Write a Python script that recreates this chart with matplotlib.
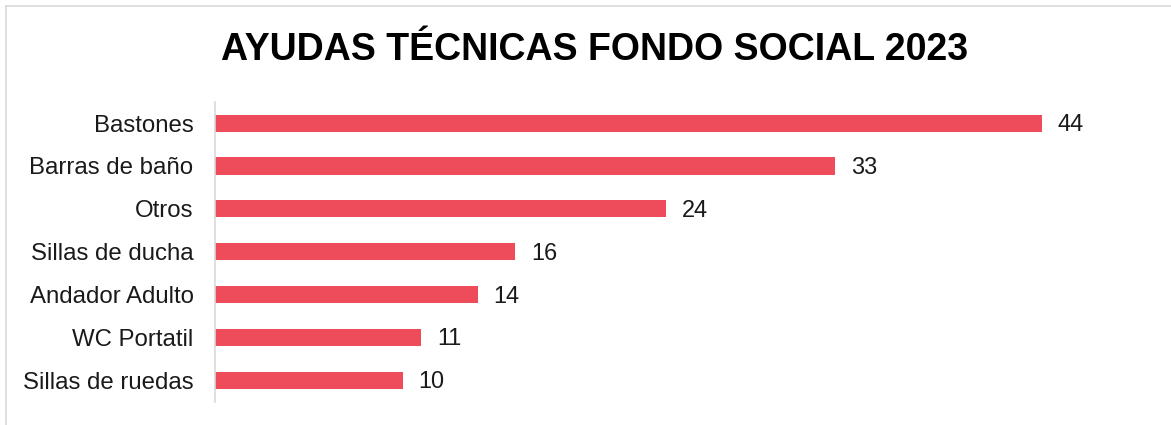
import matplotlib
matplotlib.use("Agg")
import matplotlib.pyplot as plt
from matplotlib.lines import Line2D

categories = ["Bastones", "Barras de baño", "Otros", "Sillas de ducha",
              "Andador Adulto", "WC Portatil", "Sillas de ruedas"]
values = [44, 33, 24, 16, 14, 11, 10]
title = "AYUDAS TÉCNICAS FONDO SOCIAL 2023"

plt.rcParams['font.family'] = ['Liberation Sans', 'DejaVu Sans']

W, H, DPI = 1171, 425, 100
fig = plt.figure(figsize=(W / DPI, H / DPI), dpi=DPI)
fig.patch.set_facecolor("white")

def px(v):
    return v * 72 / DPI

ax_left, ax_right = 214.5 / W, 1154.5 / W
ax_top, ax_bot = 1 - 101.7 / H, 1 - 401.7 / H
ax = fig.add_axes([ax_left, ax_bot, ax_right - ax_left, ax_top - ax_bot])

ypos = list(range(len(categories)))
ax.barh(ypos, values, height=0.4, color="#EE4B5B", edgecolor="none")
ax.set_ylim(len(categories) - 0.5, -0.5)
ax.set_xlim(0, 50)
ax.set_yticks(ypos)
ax.set_yticklabels(categories, fontsize=px(24), color="#1a1a1a")
ax.tick_params(axis="y", length=0, pad=px(21))
ax.set_xticks([])
for s in ["top", "right", "bottom"]:
    ax.spines[s].set_visible(False)
ax.spines["left"].set_color("#d9d9d9")
ax.spines["left"].set_linewidth(1.2)

for y, v in zip(ypos, values):
    ax.annotate(str(v), xy=(v, y), xytext=(px(16), px(-1.5)), textcoords="offset points",
                va="center", ha="left", fontsize=px(23.5), color="#1a1a1a")

fig.text(595 / W, 1 - 50 / H, title, ha="center", va="center",
         fontsize=px(37.5), fontweight="bold", color="black")

# outer border (top and left visible)
fig.add_artist(Line2D([6 / W, 1], [1 - 5.5 / H, 1 - 5.5 / H], transform=fig.transFigure,
                      color="#d9d9d9", linewidth=1.2))
fig.add_artist(Line2D([6 / W, 6 / W], [0, 1 - 5.5 / H], transform=fig.transFigure,
                      color="#d9d9d9", linewidth=1.2))

fig.savefig("out.png", dpi=DPI, facecolor="white")
